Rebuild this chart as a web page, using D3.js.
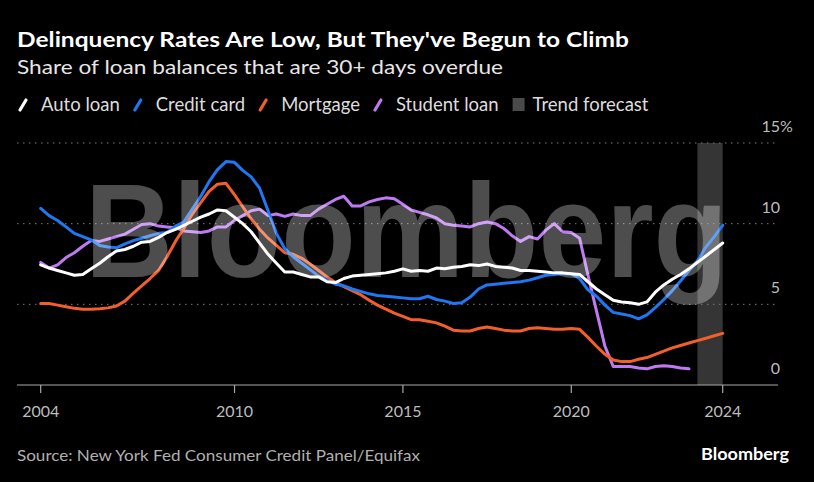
<!DOCTYPE html>
<html>
<head>
<meta charset="utf-8">
<script src="https://cdn.jsdelivr.net/npm/d3@7"></script>
<style>
  html, body { margin: 0; padding: 0; background: #000; }
  svg { display: block; font-family: Lato, "Noto Sans", sans-serif; }
</style>
</head>
<body>
<div id="chart"></div>
<script>
// quarterly, first value = 2004 Q1 (share of balance 30+ days delinquent, %)
const autoLoan = [7.45,7.25,7.1,6.95,6.8,6.85,7.2,7.55,7.95,8.3,8.4,8.6,8.85,8.9,9.15,9.45,9.65,9.9,10.15,10.4,
  10.6,10.85,10.8,10.4,10.0,9.5,8.8,8.1,7.55,7.0,7.0,6.85,6.7,6.7,6.4,6.35,6.6,6.75,6.8,6.85,
  6.9,6.95,7.05,7.2,7.05,7.1,7.05,7.25,7.2,7.3,7.35,7.45,7.4,7.5,7.35,7.3,7.25,7.1,7.1,7.05,
  7.0,6.95,6.95,6.9,6.85,6.4,5.95,5.6,5.25,5.15,5.1,5.0,5.15,5.75,6.2,6.55,6.85,7.2,7.6,8.0,8.4,8.8];
const creditCard = [10.95,10.5,10.2,9.8,9.4,9.2,9.0,8.65,8.55,8.5,8.75,8.95,9.1,9.25,9.4,9.45,9.85,10.1,10.9,11.7,
  12.6,13.35,13.85,13.8,13.3,12.9,12.2,10.8,9.4,8.45,7.95,7.55,7.15,6.75,6.5,6.25,6.15,5.95,5.8,5.65,
  5.55,5.5,5.45,5.4,5.35,5.35,5.5,5.3,5.2,5.05,5.1,5.45,5.95,6.2,6.25,6.3,6.35,6.4,6.5,6.65,
  6.8,6.85,6.9,6.9,6.6,5.9,5.5,4.95,4.5,4.4,4.3,4.1,4.35,4.8,5.3,5.85,6.45,7.1,7.7,8.55,9.2,9.9];
const mortgage = [5.05,5.05,4.95,4.85,4.75,4.7,4.7,4.72,4.78,4.9,5.2,5.7,6.15,6.6,7.1,7.95,8.9,9.7,10.6,11.3,
  12.0,12.45,12.5,11.8,11.05,10.3,9.65,9.1,8.65,8.2,8.1,7.85,7.5,7.1,6.7,6.35,6.1,5.85,5.6,5.25,
  4.95,4.7,4.45,4.25,4.05,4.05,3.95,3.85,3.65,3.4,3.35,3.35,3.5,3.6,3.5,3.4,3.35,3.35,3.5,3.55,
  3.5,3.45,3.45,3.5,3.45,2.95,2.4,1.9,1.55,1.45,1.45,1.6,1.7,1.9,2.1,2.3,2.45,2.6,2.75,2.9,3.05,3.2];
const studentLoan = [7.6,7.25,7.45,7.9,8.2,8.6,8.95,8.9,9.05,9.2,9.35,9.65,9.95,10.0,9.85,9.8,9.75,9.55,9.5,9.45,
  9.55,9.8,9.8,10.2,10.5,10.8,10.9,10.5,10.6,10.45,10.6,10.5,10.5,10.9,11.2,11.5,11.7,11.1,11.1,11.35,
  11.5,11.6,11.55,11.2,10.85,10.7,10.55,10.35,10.0,9.9,9.85,9.8,10.0,10.1,10.0,9.7,9.25,8.9,9.2,9.05,
  9.6,10.0,9.5,9.45,9.1,6.8,4.6,2.4,1.15,1.15,1.15,1.05,1.0,1.15,1.2,1.15,1.05,1.0];

const seriesNames = ["Auto loan", "Credit card", "Mortgage", "Student loan"];
const seriesColors = ["#ffffff", "#1f78f2", "#f25f2c", "#bf7af2"];
const seriesValues = [autoLoan, creditCard, mortgage, studentLoan];

const forecastStart = "2023-09-30";
const forecastEnd = "2024-06-30";
const forecastLabel = "Trend forecast";

const yTicks = [0, 5, 10, 15];
const xTickDates = ["2004-03-31", "2010-01-01", "2015-01-01", "2020-01-01", "2024-06-30"];
const xTickLabels = ["2004", "2010", "2015", "2020", "2024"];

const title = "Delinquency Rates Are Low, But They've Begun to Climb";
const subtitle = "Share of loan balances that are 30+ days overdue";
const source = "Source: New York Fed Consumer Credit Panel/Equifax";

const largura = 814, altura = 482;
const parse = d3.timeParse("%Y-%m-%d");
// quarter-end date for index i counted from 2004 Q1
const quarterEnd = i => new Date(2004, 3 * i + 3, 0);

const svg = d3.select("#chart")
  .append("svg")
  .attr("width", largura)
  .attr("height", altura)
  .attr("viewBox", "0 0 " + largura + " " + altura);

svg.append("rect").attr("width", largura).attr("height", altura).attr("fill", "#000");

const x = d3.scaleTime()
  .domain([parse(xTickDates[0]), parse(xTickDates[xTickDates.length - 1])])
  .range([40.7, 722.7]);
const y = d3.scaleLinear().domain([0, 15]).range([385, 143]);

// Titles
svg.append("text").attr("x", 17).attr("y", 47)
  .attr("fill", "#fff").attr("font-size", 21).attr("font-weight", 700)
  .attr("textLength", 612).attr("lengthAdjust", "spacingAndGlyphs")
  .text(title);
svg.append("text").attr("x", 17).attr("y", 74)
  .attr("fill", "#e6e6e6").attr("font-size", 19)
  .attr("textLength", 486).attr("lengthAdjust", "spacingAndGlyphs")
  .text(subtitle);

// Legend
const legend = svg.append("g").attr("class", "legenda");
let lx = 19;
seriesNames.forEach((nome, i) => {
  legend.append("line")
    .attr("x1", lx + 1).attr("y1", 110).attr("x2", lx + 7).attr("y2", 100)
    .attr("stroke", seriesColors[i]).attr("stroke-width", 3.2).attr("stroke-linecap", "round");
  const t = legend.append("text").attr("x", lx + 22).attr("y", 111)
    .attr("fill", "#dddddd").attr("font-size", 18.5).text(nome);
  lx = lx + 22 + t.node().getComputedTextLength() + 14;
});
legend.append("rect").attr("x", lx).attr("y", 98).attr("width", 12).attr("height", 13).attr("fill", "#4a4a4a");
legend.append("text").attr("x", lx + 20).attr("y", 111)
  .attr("fill", "#dddddd").attr("font-size", 18.5).text(forecastLabel);

// Forecast band
svg.append("rect")
  .attr("x", x(parse(forecastStart)))
  .attr("y", y(15))
  .attr("width", x(parse(forecastEnd)) - x(parse(forecastStart)))
  .attr("height", y(0) - y(15))
  .attr("fill", "#353535");

// Grid and y labels
svg.append("g").selectAll("line")
  .data(yTicks.filter(d => d > 0))
  .enter().append("line")
  .attr("x1", 17).attr("x2", 778)
  .attr("y1", d => y(d)).attr("y2", d => y(d))
  .attr("stroke", "#7a7a7a").attr("stroke-width", 1).attr("stroke-dasharray", "1.5,4.5");

svg.append("g").selectAll("text")
  .data(yTicks).enter().append("text")
  .attr("x", 780).attr("y", d => y(d) - 11)
  .attr("text-anchor", "end").attr("fill", "#bdbdbd").attr("font-size", 16)
  .text(d => d);
svg.append("text").attr("x", 780).attr("y", y(15) - 11)
  .attr("fill", "#bdbdbd").attr("font-size", 16).text("%");

// x axis
svg.append("line").attr("x1", 17).attr("x2", 778).attr("y1", y(0)).attr("y2", y(0))
  .attr("stroke", "#a8a8a8").attr("stroke-width", 1.2);
const xAxis = svg.append("g").selectAll("g")
  .data(xTickDates).enter().append("g")
  .attr("transform", d => "translate(" + x(parse(d)) + ",0)");
xAxis.append("line").attr("y1", y(0)).attr("y2", y(0) + 8)
  .attr("stroke", "#a8a8a8").attr("stroke-width", 1.2);
xAxis.append("text").attr("y", 417).attr("text-anchor", "middle")
  .attr("fill", "#bdbdbd").attr("font-size", 16)
  .text((d, i) => xTickLabels[i]);

// Lines (student loan drawn first, auto loan on top)
const linha = d3.line()
  .x((d, i) => x(quarterEnd(i)))
  .y(d => y(d));
const ordem = [3, 2, 1, 0];
svg.append("g").selectAll("path")
  .data(ordem).enter().append("path")
  .attr("d", k => linha(seriesValues[k]))
  .attr("fill", "none")
  .attr("stroke", k => seriesColors[k])
  .attr("stroke-width", 3)
  .attr("stroke-linejoin", "round")
  .attr("stroke-linecap", "round");

// Watermark, stretched vertically so its natural width stays at 643px
svg.append("text")
  .attr("transform", "translate(85,277) scale(1,1.1)")
  .attr("font-family", "'Liberation Sans', Arial, sans-serif")
  .attr("font-weight", 700).attr("font-size", 122)
  .attr("textLength", 643).attr("lengthAdjust", "spacingAndGlyphs")
  .attr("fill", "#ffffff").attr("fill-opacity", 0.3)
  .text("Bloomberg");

// Footer
svg.append("text").attr("x", 17).attr("y", 461)
  .attr("fill", "#b0b0b0").attr("font-size", 16)
  .attr("textLength", 403).attr("lengthAdjust", "spacingAndGlyphs")
  .text(source);
svg.append("text").attr("x", 701).attr("y", 460)
  .attr("fill", "#fff").attr("font-size", 17).attr("font-weight", 700)
  .attr("textLength", 88).attr("lengthAdjust", "spacingAndGlyphs")
  .text("Bloomberg");
</script>
</body>
</html>
